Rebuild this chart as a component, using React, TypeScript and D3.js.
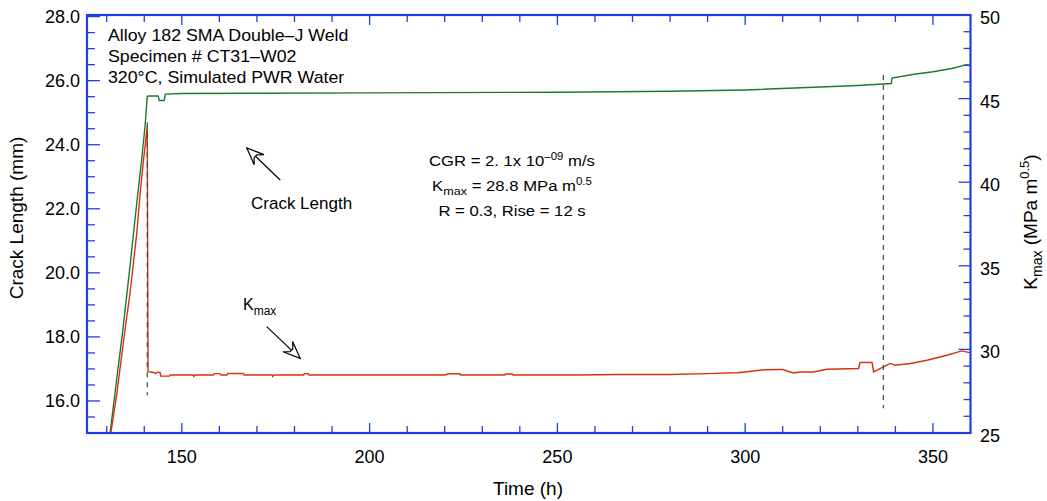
import * as d3 from 'd3';

// crack length (mm) vs time (h)
const crackTime = [130.9, 132.2, 134.4, 136.2, 138.0, 139.3, 140.2, 140.8, 141.2, 143.7, 144.0, 145.3, 145.6, 150, 200, 250, 280, 300, 320, 330, 338.9, 339.1, 345, 350, 355, 359, 360];
const crackMm = [15.0, 16.24, 18.32, 20.2, 22.18, 23.53, 24.57, 25.51, 25.52, 25.52, 25.38, 25.38, 25.58, 25.6, 25.62, 25.64, 25.67, 25.71, 25.8, 25.85, 25.91, 26.08, 26.2, 26.28, 26.38, 26.5, 26.46];

// Kmax (MPa m^0.5) vs time (h)
const kmaxTime = [131.1, 132.7, 134.4, 136.2, 138.0, 138.9, 139.8, 140.8, 141.0, 142.5, 143.0, 143.5, 144.2, 144.4, 146.7, 146.9, 153.0, 153.2, 153.5, 158.4, 158.6, 160.2, 160.4, 162.0, 162.2, 166.4, 166.6, 174.0, 174.2, 174.5, 182.4, 182.6, 183.7, 183.9, 200, 220, 221, 224, 224.2, 236, 236.2, 238, 238.2, 255, 266, 268, 280, 290, 298, 300, 305, 309.3, 310, 312.8, 314.7, 318.1, 321.8, 330.2, 330.6, 333.8, 334.2, 338.6, 340.0, 344.0, 348.4, 353.7, 357.7, 360];
const kmaxValue = [25.0, 27.37, 30.36, 33.36, 36.95, 39.34, 41.33, 43.32, 28.67, 28.62, 28.56, 28.64, 28.62, 28.4, 28.4, 28.47, 28.47, 28.38, 28.47, 28.47, 28.55, 28.55, 28.47, 28.47, 28.56, 28.56, 28.47, 28.47, 28.38, 28.47, 28.47, 28.55, 28.55, 28.47, 28.47, 28.47, 28.54, 28.54, 28.47, 28.47, 28.53, 28.53, 28.47, 28.47, 28.5, 28.5, 28.5, 28.55, 28.6, 28.65, 28.78, 28.8, 28.8, 28.59, 28.65, 28.65, 28.81, 28.86, 29.22, 29.22, 28.65, 29.16, 29.05, 29.16, 29.35, 29.65, 29.91, 29.79];

// dashed markers (time, from mm to mm on the left axis)
const markerTime = [140.8, 336.8];
const markerTop = [24.7, 26.18];
const markerBottom = [16.18, 15.77];

const xTickLabels = [150, 200, 250, 300, 350];
const leftTickLabels = [16, 18, 20, 22, 24, 26, 28];
const rightTickLabels = [25, 30, 35, 40, 45, 50];

const W = 1047;
const H = 501;
const FONT = "'Liberation Sans', Arial, Helvetica, sans-serif";
const BLUE = '#1f3fe3';
const GREEN = '#1b7a2c';
const RED = '#d8300f';

const x = d3.scaleLinear().domain([124.75, 360]).range([87, 970.5]);
const yL = d3.scaleLinear().domain([15, 28.05]).range([433, 15]);
const yR = d3.scaleLinear().domain([25, 50]).range([433, 15]);

const crackLine = d3.line<number>()
  .x((_, i) => x(crackTime[i]))
  .y((d) => yL(d));
const kmaxLine = d3.line<number>()
  .x((_, i) => x(kmaxTime[i]))
  .y((d) => yR(d));

function Arrow({ tail, tip }: { tail: [number, number]; tip: [number, number] }) {
  const [x0, y0] = [x(tail[0]), yL(tail[1])];
  const [x1, y1] = [x(tip[0]), yL(tip[1])];
  const len = Math.hypot(x0 - x1, y0 - y1);
  const ux = (x0 - x1) / len;
  const uy = (y0 - y1) / len;
  const nx = -uy;
  const ny = ux;
  const L = 17, w = 7, Li = 12, wi = 2;
  const p = (a: number, b: number) => `${x1 + ux * a + nx * b},${y1 + uy * a + ny * b}`;
  return (
    <g stroke="#000" strokeWidth={1.2}>
      <line x1={x0} y1={y0} x2={x1 + ux * Li} y2={y1 + uy * Li} />
      <polygon points={[p(0, 0), p(L, w), p(Li, wi), p(Li, -wi), p(L, -w)].join(' ')} fill="#fff" />
    </g>
  );
}

export default function App() {
  const [x0, x1] = x.range();
  const [yb, yt] = yL.range();
  const minorX = d3.range(130, 360, 10);
  const minorL = d3.range(15.5, 28.05, 0.5);
  const minorR = d3.range(26, 50, 1);

  return (
    <svg width={W} height={H} style={{ position: 'absolute', left: 0, top: 0, background: '#fff' }} fontFamily={FONT}>
      {/* data */}
      <path d={crackLine(crackMm) ?? ''} fill="none" stroke={GREEN} strokeWidth={1.4} />
      <path d={kmaxLine(kmaxValue) ?? ''} fill="none" stroke={RED} strokeWidth={1.4} />
      {markerTime.map((t, i) => (
        <line key={t} x1={x(t)} x2={x(t)} y1={yL(markerTop[i])} y2={yL(markerBottom[i])}
          stroke="#444" strokeWidth={1.2} strokeDasharray="5,5" />
      ))}

      {/* frame + ticks */}
      <g stroke={BLUE}>
        {minorX.map((t) => {
          const len = t % 50 === 0 ? 10 : 7;
          return (
            <g key={t}>
              <line x1={x(t)} x2={x(t)} y1={yb} y2={yb - len} strokeWidth={1.3} />
              <line x1={x(t)} x2={x(t)} y1={yt} y2={yt + len} strokeWidth={1.3} />
            </g>
          );
        })}
        {minorL.map((v) => (
          <line key={v} x1={x0} x2={x0 + (v % 2 === 0 ? 13 : 8)} y1={yL(v)} y2={yL(v)} strokeWidth={1.3} />
        ))}
        {minorR.map((v) => (
          <line key={v} x1={x1} x2={x1 - (v % 5 === 0 ? 12 : 7)} y1={yR(v)} y2={yR(v)} strokeWidth={1.3} />
        ))}
        <rect x={x0} y={yt} width={x1 - x0} height={yb - yt} fill="none" strokeWidth={2.2} />
      </g>

      {/* tick labels */}
      <g fontSize={18} fill="#000">
        {xTickLabels.map((t) => (
          <text key={t} x={x(t)} y={463} textAnchor="middle">{t}</text>
        ))}
        {leftTickLabels.map((v) => (
          <text key={v} x={80} y={yL(v) + 6} textAnchor="end">{v.toFixed(1)}</text>
        ))}
        {rightTickLabels.map((v) => (
          <text key={v} x={980} y={yR(v) + 9} textAnchor="start">{v}</text>
        ))}
      </g>

      {/* axis titles */}
      <text x={528} y={495} textAnchor="middle" fontSize={19}>Time (h)</text>
      <text transform="translate(23,218) rotate(-90)" textAnchor="middle" fontSize={19}>Crack Length (mm)</text>
      <text transform="translate(1037,222) rotate(-90)" textAnchor="middle" fontSize={19}>
        K<tspan fontSize={14} dy={5}>max</tspan><tspan dy={-5}> (MPa m</tspan><tspan fontSize={13} dy={-8}>0.5</tspan><tspan dy={8}>)</tspan>
      </text>

      {/* annotations */}
      <g fontSize={16}>
        <text transform="translate(108,41) scale(1.11,1)">Alloy 182 SMA Double–J Weld</text>
        <text transform="translate(108,62) scale(1.11,1)">Specimen # CT31–W02</text>
        <text transform="translate(108,83) scale(1.11,1)">320°C, Simulated PWR Water</text>
      </g>
      <g fontSize={14.5} textAnchor="middle">
        <text transform="translate(512,166) scale(1.15,1)">
          CGR = 2. 1x 10<tspan fontSize={10} dy={-6}>–09</tspan><tspan dy={6}> m/s</tspan>
        </text>
        <text transform="translate(512,191) scale(1.15,1)">
          K<tspan fontSize={11} dy={4}>max</tspan><tspan dy={-4}> = 28.8 MPa m</tspan><tspan fontSize={10} dy={-6}>0.5</tspan>
        </text>
        <text transform="translate(512,216) scale(1.15,1)">R = 0.3, Rise = 12 s</text>
      </g>
      <text x={251} y={209} fontSize={17}>Crack Length</text>
      <text x={243} y={310} fontSize={16}>
        K<tspan fontSize={12} dy={5}>max</tspan>
      </text>
      <Arrow tail={[176.2, 22.9]} tip={[167.3, 23.9]} />
      <Arrow tail={[172.6, 18.32]} tip={[181.5, 17.33]} />
    </svg>
  );
}
